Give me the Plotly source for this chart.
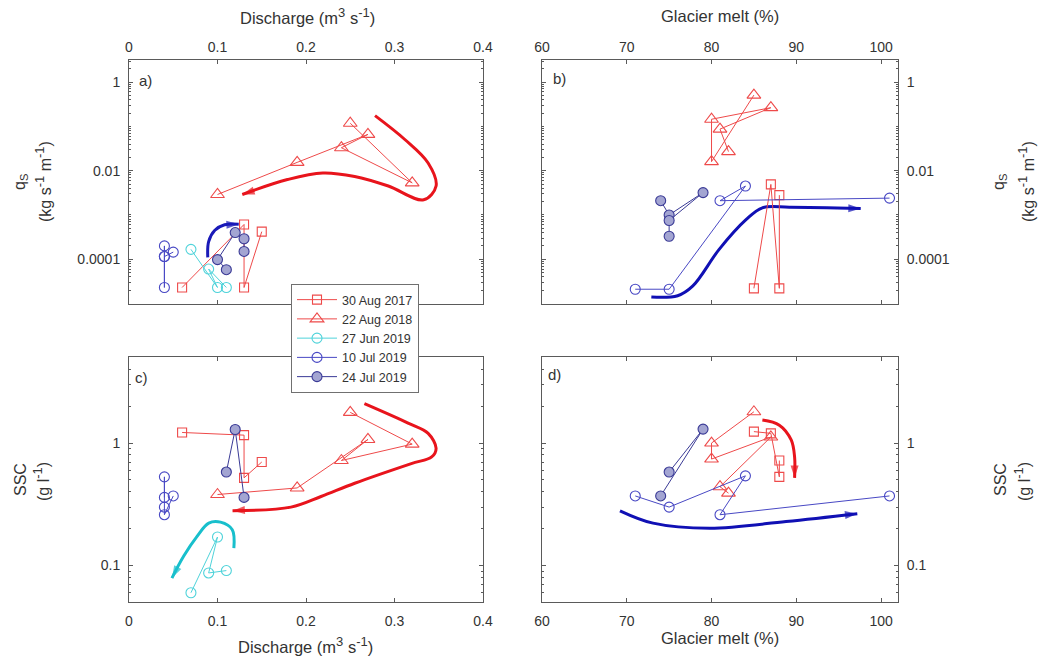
import plotly.graph_objects as go

# ---------------- data ----------------
# Discharge (m3 s-1) per event (shared by panels a and c)
q_aug17 = [0.06, 0.13, 0.13, 0.15]
q_aug18 = [0.25, 0.32, 0.24, 0.27, 0.19, 0.10]
q_jun19 = [0.07, 0.10, 0.09, 0.11]
q_jul10 = [0.04, 0.04, 0.04, 0.04, 0.05]
q_jul24_a = [0.11, 0.10, 0.12, 0.13, 0.13]
q_jul24_c = [0.11, 0.12, 0.13]

# Glacier melt (%) per event (shared by panels b and d)
gm_aug17 = [85, 87, 88, 88]
gm_aug18 = [85, 80, 80, 87, 81, 82]
gm_jul10 = [71, 75, 84, 81, 101]
gm_jul24_b = [74, 75, 79, 75, 75]
gm_jul24_d = [75, 79, 74]

# qs (kg s-1 m-1) panel a
qs_a_aug17 = [2.3e-5, 6.1e-4, 2.3e-5, 4.2e-4]
qs_a_aug18 = [0.118, 0.0053, 0.033, 0.066, 0.0154, 0.0029]
qs_a_jun19 = [1.67e-4, 2.3e-5, 6.0e-5, 2.3e-5]
qs_a_jul10 = [1.15e-4, 2.3e-5, 2.0e-4, 1.15e-4, 1.45e-4]
qs_a_jul24 = [5.8e-5, 9.8e-5, 4.0e-4, 2.9e-4, 1.5e-4]

# qs panel b
qs_b_aug17 = [2.2e-5, 0.0049, 2.2e-5, 0.0028]
qs_b_aug18 = [0.51, 0.016, 0.145, 0.265, 0.087, 0.027]
qs_b_jul10 = [2.1e-5, 2.1e-5, 0.0045, 0.0021, 0.0024]
qs_b_jul24 = [0.0021, 0.0010, 0.0032, 7.5e-4, 3.3e-4]

# SSC (g l-1)
ssc_aug17 = [1.22, 1.16, 0.52, 0.70]
ssc_aug18 = [1.78, 0.98, 0.72, 1.07, 0.43, 0.38]
ssc_jun19 = [0.060, 0.171, 0.087, 0.091]
ssc_jul10 = [0.36, 0.30, 0.53, 0.26, 0.37]
ssc_jul24 = [0.58, 1.29, 0.36]
ssc_d_aug17 = [1.24, 1.20, 0.53, 0.72]
ssc_d_aug18 = [1.80, 1.00, 0.74, 1.12, 0.44, 0.39]
ssc_d_jul10 = [0.37, 0.30, 0.54, 0.26, 0.37]
ssc_d_jul24 = [0.58, 1.30, 0.37]

# hysteresis trend arrows (drawn paths)
arr_a_red_x = [0.278, 0.312, 0.338, 0.347, 0.333, 0.293, 0.255, 0.219, 0.179, 0.128]
arr_a_red_y = [0.175, 0.05, 0.0149, 0.0045, 0.0022, 0.0045, 0.0074, 0.0089, 0.0063, 0.0029]
arr_a_blue_x = [0.089, 0.090, 0.097, 0.108, 0.124]
arr_a_blue_y = [1.1e-4, 2.5e-4, 4.5e-4, 6.0e-4, 6.2e-4]
arr_b_blue_x = [72.9, 76.0, 77.8, 80.9, 84.1, 86.0, 89.2, 97.6]
arr_b_blue_y = [1.4e-5, 1.5e-5, 2.5e-5, 1.67e-4, 7.9e-4, 1.45e-3, 1.5e-3, 1.4e-3]
arr_c_red_x = [0.266, 0.316, 0.338, 0.347, 0.342, 0.319, 0.255, 0.217, 0.183, 0.117]
arr_c_red_y = [2.1, 1.45, 1.2, 0.905, 0.77, 0.68, 0.47, 0.366, 0.30, 0.28]
arr_c_cyan_x = [0.1185, 0.1167, 0.1034, 0.0901, 0.0769, 0.0617, 0.0485]
arr_c_cyan_y = [0.139, 0.196, 0.226, 0.222, 0.173, 0.119, 0.079]
arr_d_red_x = [86.0, 88.0, 89.4, 89.8, 89.8]
arr_d_red_y = [1.54, 1.40, 1.06, 0.77, 0.52]
arr_d_blue_x = [69.2, 73.1, 79.8, 88.8, 97.2]
arr_d_blue_y = [0.28, 0.222, 0.202, 0.229, 0.265]

# tick labels
q_ticks = [0, 0.1, 0.2, 0.3, 0.4]
gm_ticks = [60, 70, 80, 90, 100]
qs_tv = [1e-4, 1e-2, 1]
qs_tt = ["0.0001", "0.01", "1"]
ssc_tv = [0.1, 1]
ssc_tt = ["0.1", "1"]

# ---------------- styles ----------------
FONT = "Liberation Sans, Arial, sans-serif"
RED = "#ee4a4a"
CYAN = "#4fd3da"
BLUE = "#4848c4"
FILL24 = "#a3a5d2"
EDGE24 = "#3a3a96"

styles = {
    "30 Aug 2017": dict(color=RED, symbol="square-open", size=9, fill=None),
    "22 Aug 2018": dict(color=RED, symbol="triangle-up-open", size=12, fill=None),
    "27 Jun 2019": dict(color=CYAN, symbol="circle-open", size=10, fill=None),
    "10 Jul 2019": dict(color=BLUE, symbol="circle-open", size=10, fill=None),
    "24 Jul 2019": dict(color=EDGE24, symbol="circle", size=10, fill=FILL24),
}

fig = go.Figure()

def add_series(name, x, y, xa, ya, legend=False):
    s = styles[name]
    if s["fill"] is None:
        marker = dict(symbol=s["symbol"], size=s["size"], color=s["color"],
                      line=dict(color=s["color"], width=1.1))
    else:
        marker = dict(symbol=s["symbol"], size=s["size"], color=s["fill"],
                      line=dict(color=s["color"], width=1.1))
    fig.add_trace(go.Scatter(
        x=x, y=y, xaxis=xa, yaxis=ya, name=name, legendgroup=name,
        showlegend=legend, mode="lines+markers",
        line=dict(color=s["color"], width=1), marker=marker, cliponaxis=False))

def add_arrow(x, y, xa, ya, color, width=3):
    n = len(x)
    fig.add_trace(go.Scatter(
        x=x, y=y, xaxis=xa, yaxis=ya, mode="lines+markers", showlegend=False,
        hoverinfo="skip",
        line=dict(color=color, width=width, shape="spline", smoothing=1.0),
        marker=dict(symbol="arrow", angleref="previous",
                    size=[0] * (n - 1) + [13], color=color,
                    line=dict(width=0))))

# arrows first (drawn under data)
add_arrow(arr_a_red_x, arr_a_red_y, "x", "y", "#e8141c")
add_arrow(arr_a_blue_x, arr_a_blue_y, "x", "y", "#1a1ab8")
add_arrow(arr_b_blue_x, arr_b_blue_y, "x2", "y2", "#1010b4")
add_arrow(arr_c_red_x, arr_c_red_y, "x3", "y3", "#e8141c")
add_arrow(arr_c_cyan_x, arr_c_cyan_y, "x3", "y3", "#18bfcc")
add_arrow(arr_d_red_x, arr_d_red_y, "x4", "y4", "#e8141c")
add_arrow(arr_d_blue_x, arr_d_blue_y, "x4", "y4", "#1010b4")

# panel a
add_series("30 Aug 2017", q_aug17, qs_a_aug17, "x", "y", True)
add_series("22 Aug 2018", q_aug18, qs_a_aug18, "x", "y", True)
add_series("27 Jun 2019", q_jun19, qs_a_jun19, "x", "y", True)
add_series("10 Jul 2019", q_jul10, qs_a_jul10, "x", "y", True)
add_series("24 Jul 2019", q_jul24_a, qs_a_jul24, "x", "y", True)
# panel b
add_series("30 Aug 2017", gm_aug17, qs_b_aug17, "x2", "y2")
add_series("22 Aug 2018", gm_aug18, qs_b_aug18, "x2", "y2")
add_series("10 Jul 2019", gm_jul10, qs_b_jul10, "x2", "y2")
add_series("24 Jul 2019", gm_jul24_b, qs_b_jul24, "x2", "y2")
# panel c
add_series("30 Aug 2017", q_aug17, ssc_aug17, "x3", "y3")
add_series("22 Aug 2018", q_aug18, ssc_aug18, "x3", "y3")
add_series("27 Jun 2019", q_jun19, ssc_jun19, "x3", "y3")
add_series("10 Jul 2019", q_jul10, ssc_jul10, "x3", "y3")
add_series("24 Jul 2019", q_jul24_c, ssc_jul24, "x3", "y3")
# panel d
add_series("30 Aug 2017", gm_aug17, ssc_d_aug17, "x4", "y4")
add_series("22 Aug 2018", gm_aug18, ssc_d_aug18, "x4", "y4")
add_series("10 Jul 2019", gm_jul10, ssc_d_jul10, "x4", "y4")
add_series("24 Jul 2019", gm_jul24_d, ssc_d_jul24, "x4", "y4")

W, H = 1046, 660
def px(v):
    return v / W
def py(v):
    return 1 - v / H

AX = "#5a5a5a"
tickfont = dict(family=FONT, size=14, color="#333333")

def xaxis(dom, rng, tv, side, anchor, standoff):
    return dict(domain=dom, range=rng, tickvals=tv, ticktext=[str(t) for t in tv],
                side=side, anchor=anchor, ticks="inside", ticklen=4, tickcolor=AX,
                showline=True, linecolor=AX, linewidth=1, mirror="ticks",
                showgrid=False, zeroline=False, tickfont=tickfont,
                ticklabelstandoff=standoff, automargin=False)

def yaxis(dom, rng, tv, tt, side, anchor):
    return dict(domain=dom, type="log", range=rng, tickvals=tv, ticktext=tt,
                side=side, anchor=anchor, ticks="inside", ticklen=4, tickcolor=AX,
                showline=True, linecolor=AX, linewidth=1, mirror="ticks",
                showgrid=False, zeroline=False, tickfont=tickfont,
                ticklabelstandoff=5, automargin=False,
                minor=dict(ticks="inside", ticklen=2, tickcolor=AX, dtick="D1",
                           showgrid=False))

xa_dom = [px(129), px(483)]
xb_dom = [px(542), px(898)]
ytop_dom = [py(303.5), py(60)]
ybot_dom = [py(602.3), py(357.3)]

fig.update_layout(
    width=W, height=H, autosize=False,
    margin=dict(l=0, r=0, t=0, b=0, autoexpand=False),
    paper_bgcolor="white", plot_bgcolor="white",
    font=dict(family=FONT, color="#333333"),
    xaxis=xaxis(xa_dom, [0, 0.4], q_ticks, "top", "y", 1),
    yaxis=yaxis(ytop_dom, [-5, 0.5], qs_tv, qs_tt, "left", "x"),
    xaxis2=xaxis(xb_dom, [60, 102], gm_ticks, "top", "y2", 1),
    yaxis2=yaxis(ytop_dom, [-5, 0.5], qs_tv, qs_tt, "right", "x2"),
    xaxis3=xaxis(xa_dom, [0, 0.4], q_ticks, "bottom", "y3", 6),
    yaxis3=yaxis(ybot_dom, [-1.3, 0.7], ssc_tv, ssc_tt, "left", "x3"),
    xaxis4=xaxis(xb_dom, [60, 102], gm_ticks, "bottom", "y4", 6),
    yaxis4=yaxis(ybot_dom, [-1.3, 0.7], ssc_tv, ssc_tt, "right", "x4"),
    legend=dict(x=px(291), y=py(284), xanchor="left", yanchor="top",
                bgcolor="white", bordercolor="#707070", borderwidth=1,
                font=dict(family=FONT, size=12.5, color="#333333"),
                tracegroupgap=0, itemwidth=40),
    showlegend=True,
)

def ann(text, x, y, size=16, angle=0):
    fig.add_annotation(text=text, x=px(x), y=py(y), xref="paper", yref="paper",
                       showarrow=False, textangle=angle, xanchor="center",
                       yanchor="middle",
                       font=dict(family=FONT, size=size, color="#333333"))

SUP1 = "<sup><span style='font-size:13px'>-1</span></sup>"
SUP3 = "<sup><span style='font-size:13px'>3</span></sup>"
ann("Discharge (m" + SUP3 + " s" + SUP1 + ")", 307, 16, size=16.5)
ann("Glacier melt (%)", 720, 16, size=16.5)
ann("Discharge (m" + SUP3 + " s" + SUP1 + ")", 305, 645, size=16.5)
ann("Glacier melt (%)", 720, 638, size=16.5)
ann("q<sub>S</sub>", 20, 182, angle=-90)
ann("(kg s" + SUP1 + " m" + SUP1 + ")", 43, 182, angle=-90)
ann("q<sub>S</sub>", 999, 182, angle=-90)
ann("(kg s" + SUP1 + " m" + SUP1 + ")", 1026, 182, angle=-90)
ann("SSC", 20, 480, angle=-90)
ann("(g l" + SUP1 + ")", 41, 482, angle=-90)
ann("SSC", 1000, 480, angle=-90)
ann("(g l" + SUP1 + ")", 1022, 482, angle=-90)
ann("a)", 145, 81, size=15)
ann("b)", 559, 79, size=15)
ann("c)", 141, 377, size=15)
ann("d)", 554, 374, size=15)

fig.write_html(
    "out.html",
    config={"displayModeBar": False},
    post_script="document.body.style.margin='0';document.body.style.overflow='hidden';",
)
